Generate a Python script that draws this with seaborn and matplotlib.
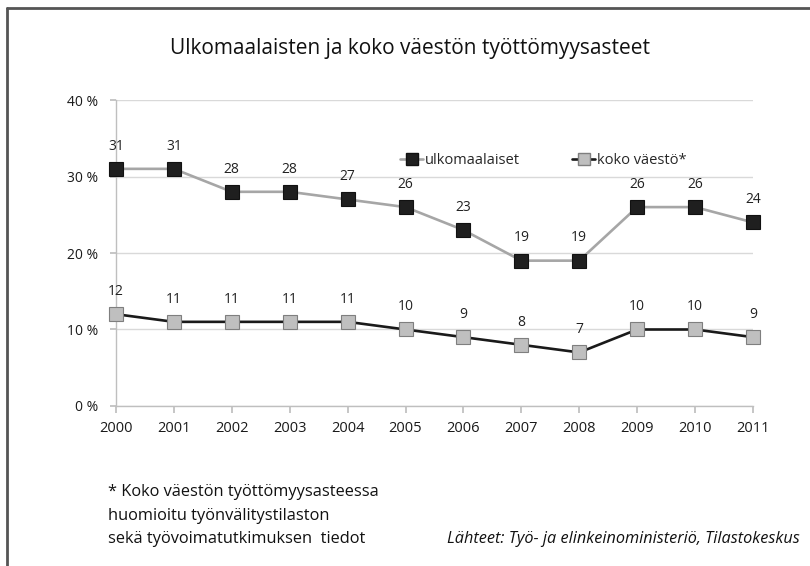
import matplotlib
matplotlib.use("Agg")
import matplotlib.pyplot as plt
import seaborn as sns
import pandas as pd
from matplotlib.lines import Line2D

years = [2000, 2001, 2002, 2003, 2004, 2005, 2006, 2007, 2008, 2009, 2010, 2011]
ulkomaalaiset = [31, 31, 28, 28, 27, 26, 23, 19, 19, 26, 26, 24]
koko_vaesto = [12, 11, 11, 11, 11, 10, 9, 8, 7, 10, 10, 9]
series_names = ["ulkomaalaiset", "koko väestö*"]
y_ticks = [0, 10, 20, 30, 40]
title = "Ulkomaalaisten ja koko väestön työttömyysasteet"
footnote = ["* Koko väestön työttömyysasteessa",
            "huomioitu työnvälitystilaston",
            "sekä työvoimatutkimuksen  tiedot"]
source = "Lähteet: Työ- ja elinkeinoministeriö, Tilastokeskus"

df = pd.DataFrame({
    "year": years * 2,
    "value": ulkomaalaiset + koko_vaesto,
    "series": [series_names[0]] * len(years) + [series_names[1]] * len(years),
})

sns.set_theme(style="white")
plt.rcParams["font.family"] = ["Open Sans", "DejaVu Sans"]

fig = plt.figure(figsize=(8.1, 5.66), dpi=100)
ax = fig.add_axes([0.1432, 0.2827, 0.9296 - 0.1432, 0.8233 - 0.2827])

line_colors = {series_names[0]: "#a6a6a6", series_names[1]: "#1a1a1a"}
face_colors = {series_names[0]: "#1f1f1f", series_names[1]: "#bfbfbf"}
edge_colors = {series_names[0]: "#111111", series_names[1]: "#7f7f7f"}

for name in series_names:
    sub = df[df["series"] == name]
    sns.lineplot(data=sub, x="year", y="value", ax=ax, color=line_colors[name],
                 linewidth=1.9, marker="s", markersize=9.5,
                 markerfacecolor=face_colors[name], markeredgecolor=edge_colors[name],
                 markeredgewidth=0.8, legend=False, zorder=3, clip_on=False)
    for x, y in zip(sub["year"], sub["value"]):
        ax.annotate(f"{y}", (x, y), xytext=(0, 11), textcoords="offset points",
                    ha="center", va="bottom", fontsize=10, color="#222222")

ax.set_xlim(years[0], years[-1])
ax.set_ylim(y_ticks[0], y_ticks[-1])
ax.set_yticks(y_ticks)
ax.set_yticklabels([f"{t} %" for t in y_ticks], fontsize=10, color="#1a1a1a")
ax.set_xticks(years)
ax.set_xticklabels([str(y) for y in years], fontsize=10.5, color="#1a1a1a")
ax.set_xlabel("")
ax.set_ylabel("")
ax.grid(axis="y", color="#d9d9d9", linewidth=1)
ax.grid(axis="x", visible=False)
for s in ["top", "right"]:
    ax.spines[s].set_visible(False)
ax.spines["left"].set_color("#bfbfbf")
ax.spines["bottom"].set_color("#bfbfbf")
ax.spines["left"].set_linewidth(1)
ax.spines["bottom"].set_linewidth(1)
ax.tick_params(axis="y", which="both", left=True, length=4, color="#bfbfbf", pad=9)
ax.tick_params(axis="x", which="both", bottom=True, length=5, color="#bfbfbf", pad=6)

handles = [Line2D([0], [0], color=line_colors[n], linewidth=1.9, marker="s",
                  markersize=8, markerfacecolor=face_colors[n],
                  markeredgecolor=edge_colors[n]) for n in series_names]
leg = ax.legend(handles, series_names, loc="upper left", bbox_to_anchor=(0.425, 0.87),
                ncol=2, frameon=False, fontsize=10.5, handlelength=1.6,
                handletextpad=0.1, columnspacing=3.6)

fig.text(0.506, 0.915, title, ha="center", va="center", fontsize=15, color="#111111")
for i, line in enumerate(footnote):
    fig.text(108 / 810, 1 - (492 + 23.5 * i) / 566, line, ha="left", va="center",
             fontsize=11.8, color="#111111")
fig.text(800 / 810, 1 - 539 / 566, source, ha="right", va="center", fontsize=11.7,
         style="italic", color="#111111")

# frame (top and left edges visible)
fig.add_artist(Line2D([7 / 810, 7 / 810], [0, 1 - 8 / 566], transform=fig.transFigure,
                      color="#555555", linewidth=2))
fig.add_artist(Line2D([7 / 810, 1], [1 - 8 / 566, 1 - 8 / 566], transform=fig.transFigure,
                      color="#555555", linewidth=2))

fig.savefig("out.png", dpi=100)
